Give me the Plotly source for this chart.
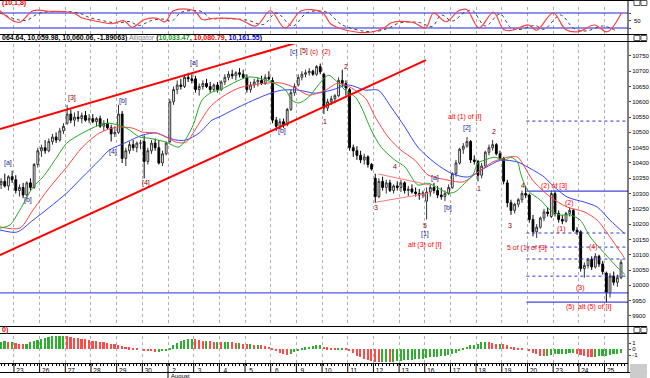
import plotly.graph_objects as go

# ---------------- data ----------------
bars = list(range(-4, 166))  # hourly bars, 7 per trading day
opens = [10330,10340,10325,10355,
 10345,10310,10320,10295,10335,10320,10395,
 10440,10450,10440,10470,10485,10475,10505,
 10530,10560,10540,10550,10545,10555,10540,
 10545,10535,10545,10520,10530,10515,10495,
 10500,10560,10415,10440,10460,10450,10465,
 10470,10405,10440,10465,10450,10400,10430,
 10470,10600,10640,10655,10650,10680,10675,
 10675,10640,10650,10660,10650,10640,10655,
 10640,10665,10680,10690,10685,10695,10690,
 10680,10640,10655,10665,10670,10660,10680,
 10670,10540,10520,10535,10525,10575,10630,
 10655,10680,10690,10695,10700,10690,10715,
 10690,10580,10600,10610,10620,10670,10660,
 10640,10450,10440,10425,10410,10420,10395,
 10350,10290,10340,10320,10335,10310,10325,
 10320,10335,10310,10315,10305,10300,10295,
 10275,10305,10320,10310,10295,10290,10300,
 10320,10365,10400,10445,10455,10470,10410,
 10405,10360,10390,10435,10450,10460,10430,
 10415,10335,10270,10245,10265,10280,10300,
 10295,10215,10175,10190,10220,10240,10225,
 10300,10235,10215,10210,10235,10245,10180,
 10175,10055,10065,10085,10060,10095,10070,
 10040,9975,10030,10010,10025]
highs = [10350,10365,10360,10375,
 10360,10330,10335,10340,10350,10400,10450,
 10460,10475,10480,10495,10500,10515,10530,
 10590,10575,10565,10570,10565,10570,10560,
 10560,10550,10555,10540,10545,10525,10520,
 10590,10570,10450,10470,10475,10470,10475,
 10490,10450,10475,10480,10475,10440,10470,
 10610,10650,10670,10675,10690,10695,10690,
 10685,10660,10670,10675,10665,10660,10665,
 10670,10690,10700,10705,10700,10710,10705,
 10690,10665,10675,10680,10685,10690,10700,
 10680,10550,10545,10545,10580,10640,10660,
 10690,10700,10705,10710,10705,10720,10725,
 10695,10610,10620,10625,10680,10705,10670,
 10645,10460,10455,10440,10430,10425,10400,
 10365,10350,10355,10345,10345,10330,10340,
 10345,10340,10325,10330,10320,10315,10310,
 10320,10330,10335,10325,10320,10310,10330,
 10370,10410,10450,10465,10485,10475,10425,
 10410,10400,10440,10460,10475,10465,10440,
 10420,10345,10280,10270,10285,10310,10325,
 10300,10230,10200,10225,10250,10255,10310,
 10310,10245,10230,10240,10255,10250,10190,
 10180,10075,10090,10095,10105,10100,10080,
 10045,10040,10045,10035,10085]
lows = [10315,10320,10310,10335,
 10300,10290,10285,10290,10310,10315,10385,
 10420,10430,10435,10460,10465,10470,10495,
 10525,10530,10520,10535,10530,10535,10530,
 10530,10520,10515,10505,10510,10470,10485,
 10495,10400,10390,10430,10440,10435,10445,
 10350,10395,10430,10440,10395,10390,10425,
 10465,10590,10625,10640,10645,10665,10660,
 10630,10620,10640,10645,10630,10635,10630,
 10635,10655,10670,10675,10670,10680,10675,
 10630,10630,10645,10650,10655,10655,10670,
 10530,10505,10510,10515,10520,10570,10620,
 10650,10670,10680,10685,10685,10685,10690,
 10560,10570,10590,10595,10615,10650,10620,
 10440,10420,10410,10400,10395,10385,10375,
 10270,10285,10310,10300,10305,10300,10310,
 10305,10300,10290,10300,10290,10280,10285,
 10215,10290,10300,10285,10280,10275,10295,
 10315,10355,10395,10430,10450,10400,10395,
 10340,10350,10385,10425,10440,10425,10410,
 10330,10255,10230,10235,10255,10270,10285,
 10205,10160,10155,10185,10210,10225,10220,
 10225,10205,10200,10205,10225,10175,10165,
 10045,10025,10055,10050,10055,10060,10035,
 9945,9960,10000,9995,10020]
closes = [10340,10325,10355,10345,
 10310,10320,10295,10335,10320,10395,10440,
 10450,10440,10470,10485,10475,10505,10520,
 10560,10540,10550,10545,10555,10540,10545,
 10535,10545,10520,10530,10515,10495,10500,
 10560,10415,10440,10460,10450,10465,10465,
 10405,10440,10465,10450,10400,10430,10465,
 10600,10640,10655,10650,10680,10675,10670,
 10640,10650,10660,10650,10640,10655,10640,
 10665,10680,10690,10685,10695,10690,10680,
 10640,10655,10665,10670,10660,10680,10675,
 10540,10520,10535,10525,10575,10630,10650,
 10680,10690,10695,10700,10690,10715,10698,
 10580,10600,10610,10620,10670,10660,10645,
 10450,10440,10425,10410,10420,10395,10380,
 10290,10340,10320,10335,10310,10325,10320,
 10335,10310,10315,10305,10300,10295,10303,
 10305,10320,10310,10295,10290,10300,10320,
 10365,10400,10445,10455,10470,10410,10405,
 10360,10390,10435,10450,10460,10430,10415,
 10340,10270,10245,10265,10280,10300,10295,
 10215,10175,10190,10220,10240,10235,10300,
 10235,10215,10210,10235,10245,10180,10175,
 10055,10065,10085,10060,10095,10070,10045,
 9975,10030,10010,10025,10075]

# Alligator lines (jaw / teeth / lips)
green_x = [-4.3,-1.6,1.1,4.7,7.4,11.2,13.9,18.2,22.8,25.5,30.2,33.7,36.4,41.0,44.5,48.1,50.8,53.5,55.4,63.5,
           69.8,73.6,75.2,77.1,79.8,82.5,85.2,87.1,89.8,92.6,94.2,96.9,99.6,103.4,106.1,109.6,112.4,115.1,117.8,119.7,
           122.4,124.6,126.0,127.8,130.5,133.3,134.9,136.8,137.6,139.5,143.0,145.7,148.4,151.2,153.9,156.6,160.4,163.9,166.1]
green_y = [10187,10197,10246,10321,10354,10419,10465,10498,10524,10530,10514,10485,10481,10468,10452,10517,10606,10632,10638,10681,
           10664,10638,10606,10596,10615,10655,10687,10671,10638,10615,10583,10508,10452,10409,10387,10328,10334,10318,10302,10305,
           10334,10360,10400,10409,10419,10409,10419,10403,10367,10311,10279,10246,10230,10230,10213,10158,10106,10060,10035]
red_x = [-4.3,1.1,4.7,9.3,13.9,18.2,22.8,27.4,31.8,34.5,38.3,41.0,43.7,46.4,50.0,52.7,55.4,60.8,68.1,72.5,
         76.3,79.8,84.4,87.9,91.5,95.3,98.0,101.5,105.0,108.8,112.4,117.8,121.9,126.0,130.0,134.1,136.8,138.7,140.9,145.7,
         150.3,155.0,158.5,162.0,165.9]
red_y = [10191,10187,10246,10321,10387,10452,10498,10517,10514,10501,10498,10485,10468,10468,10530,10579,10609,10645,10661,10661,
         10645,10622,10638,10661,10645,10612,10550,10485,10442,10409,10361,10344,10338,10370,10403,10419,10419,10387,10344,10289,
         10256,10240,10213,10158,10090]
blue_x = [-4.3,0.3,4.7,9.3,13.9,18.2,22.8,25.5,30.2,34.5,38.3,41.0,43.7,46.4,50.0,53.5,55.4,60.8,68.1,72.5,
          77.1,81.7,86.0,90.7,95.3,98.8,102.3,106.1,109.6,114.3,118.6,123.2,127.8,132.2,136.8,139.5,144.1,145.7,150.3,155.0,
          158.5,162.0,165.9]
blue_y = [10181,10174,10213,10256,10302,10354,10409,10442,10468,10491,10498,10485,10475,10475,10498,10540,10550,10583,10622,10638,
          10638,10628,10638,10655,10638,10638,10583,10517,10452,10400,10367,10354,10383,10409,10403,10387,10354,10334,10289,10272,
          10256,10213,10170]

# Oscillator (top panel)
osc_x = [-4.3,0.8,4.7,9,13.7,16,18.2,21,23.8,26.1,29.5,31.7,35.1,38.5,40.7,43,47.5,49,50.9,54.2,
         61,65.5,69.4,73.4,77.9,83.5,85.8,88,93.6,97,100.4,102.6,108.3,111.7,113.9,117.3,120.7,122.9,126.3,130.2,
         133,135.3,139.8,142,146.5,149.9,153.3,157.8,161.2,165.1]
osc_k = [89,42,89,87,85,78,60,50,42,37,49,23,54,59,45,89,94,85,54,59,
         54,28,89,20,89,83,37,20,2,4,20,42,42,20,80,45,89,94,20,83,
         14,11,32,11,80,14,5,32,5,80]
osc_d_x = [-4.3,2.5,6.5,11,15.5,18,20,23,25.5,28,31,33.5,37,40,42.5,45,49,51,53,56,
           63,67.5,71,75.5,79.5,85,88,90,95.5,99,102,104.5,110,113.5,116,119,122.5,124.5,128,132,
           135,137.5,141.5,144,148.5,152,155.5,160,163.5]
osc_d = [80,50,80,86,84,76,62,52,44,40,46,30,50,56,48,82,90,84,58,58,
         52,34,80,28,82,82,42,26,6,8,22,40,42,26,72,48,84,90,28,76,
         20,14,30,15,72,20,8,28,10]
osc_levels = [80, 20]

# Histogram (bottom panel)
ao = [1.2,1.3,1.1,1.2,
      1.0,0.9,0.8,0.9,1.1,1.3,1.5,
      1.7,1.9,2.0,2.1,2.2,2.2,2.2,
      2.1,2.0,1.9,1.8,1.7,1.6,1.5,
      1.4,1.3,1.2,1.1,1.0,0.9,0.8,
      0.6,0.5,0.4,0.3,0.2,0.1,0.0,
      -0.2,-0.3,-0.4,-0.5,-0.5,-0.4,-0.3,
      0.2,0.6,1.0,1.3,1.5,1.6,1.7,
      1.6,1.5,1.4,1.4,1.3,1.2,1.2,
      1.1,1.1,1.2,1.1,1.0,1.0,0.9,
      0.8,0.8,0.7,0.7,0.6,0.5,0.4,
      0.1,-0.3,-0.6,-0.8,-1.0,-0.8,-0.5,
      -0.2,0.1,0.3,0.4,0.5,0.6,0.6,
      0.4,0.3,0.2,0.1,0.1,0.2,0.1,
      -0.3,-0.7,-1.1,-1.4,-1.7,-1.9,-2.0,
      -2.1,-2.2,-2.2,-2.1,-2.2,-2.1,-2.0,
      -2.0,-1.9,-1.9,-1.8,-1.7,-1.7,-1.6,
      -1.5,-1.4,-1.4,-1.3,-1.2,-1.1,-1.0,
      -0.8,-0.6,-0.3,0.1,0.4,0.6,0.7,
      0.9,1.1,1.2,1.1,1.0,0.9,0.9,
      0.8,0.6,0.4,0.3,0.2,0.1,0.0,
      -0.3,-0.6,-0.9,-1.1,-1.2,-1.1,-1.0,
      -0.9,-0.9,-0.8,-0.8,-0.7,-0.7,-0.8,
      -1.0,-1.2,-1.3,-1.4,-1.3,-1.2,-1.1,
      -1.1,-1.0,-0.9,-0.8,-0.7]

day_labels = ["23","26","27","28","29","30","2","3","4","5","6","9","10","11","12","13",
              "16","17","18","19","20","23","24","25"]

# drawn lines (channel, triangle, levels)
chan_up_x = [-4.3, 77.1]
chan_up_y = [10511, 10795]
chan_lo_x = [-4.3, 111.8]
chan_lo_y = [10099, 10736]
tri_up_x = [98.8, 112.9]
tri_up_y = [10364, 10328]
tri_lo_x = [98.3, 112.9]
tri_lo_y = [10272, 10302]
level_full = 9975
level_start = 139.2
levels_solid = [10308, 9945]
levels_dotted = [10537, 10171, 10125, 10086, 10030]

BLUE_L = "#1c1c90"
DRED = "#8b0000"
RED = "#ff0000"
wave_labels = [
    (-2.1, 10400, "[a]", BLUE_L), (3.3, 10279, "[b]", BLUE_L), (15.2, 10612, "[3]", DRED),
    (26.4, 10436, "[4]", BLUE_L), (29.1, 10602, "[b]", BLUE_L), (35.6, 10334, "[4]", DRED),
    (48.6, 10726, "[a]", BLUE_L), (72.5, 10504, "[b]", BLUE_L), (75.7, 10762, "[c]", BLUE_L),
    (78.7, 10766, "[5]", DRED), (81.4, 10762, "(c)", RED), (84.7, 10762, "(2)", RED),
    (90.1, 10717, "2", DRED), (84.4, 10537, "1", DRED), (103.4, 10390, "4", DRED),
    (98.3, 10253, "3", DRED), (114.3, 10351, "[a]", BLUE_L), (111.5, 10197, "5", DRED),
    (111.5, 10168, "[1]", BLUE_L), (111.5, 10132, "alt (3) of [I]", RED), (117.8, 10253, "[b]", BLUE_L),
    (123.0, 10514, "[2]", BLUE_L), (122.4, 10550, "alt (1) of [I]", RED), (126.2, 10315, "1", DRED),
    (130.5, 10504, "2", DRED), (138.4, 10328, "4", DRED), (134.6, 10197, "3", DRED),
    (139.5, 10122, "5 of (1) of [3]", RED), (146.8, 10325, "(2) of [3]", RED), (148.7, 10184, "(1)", RED),
    (150.9, 10269, "(2)", RED), (153.9, 9991, "(3)", RED), (157.4, 10125, "(4)", RED),
    (151.2, 9929, "(5)", RED), (157.9, 9929, "alt (5) of [I]", RED),
]

# ---------------- figure ----------------
W, H = 650, 378
PLOT_W = 631
def fy(px):
    return 1 - px / H

XR = [-4.3, 166.9]
fig = go.Figure()

# oscillator panel
for lv in osc_levels:
    fig.add_trace(go.Scatter(x=XR, y=[lv, lv], mode="lines", line=dict(color="#2020e0", width=1),
                             xaxis="x", yaxis="y3", hoverinfo="skip", showlegend=False))
fig.add_trace(go.Scatter(x=osc_d_x, y=osc_d, mode="lines", line=dict(color="#444444", width=1, dash="dot", shape="spline"),
                         xaxis="x", yaxis="y3", hoverinfo="skip", showlegend=False))
fig.add_trace(go.Scatter(x=osc_x, y=osc_k, mode="lines", line=dict(color="#ff4040", width=1.2, shape="spline"),
                         xaxis="x", yaxis="y3", hoverinfo="skip", showlegend=False))

# main panel: levels
fig.add_trace(go.Scatter(x=XR, y=[level_full, level_full], mode="lines", line=dict(color="#5555ee", width=1.2),
                         xaxis="x", yaxis="y2", hoverinfo="skip", showlegend=False))
for lv in levels_solid:
    fig.add_trace(go.Scatter(x=[level_start, XR[1]], y=[lv, lv], mode="lines", line=dict(color="#4444dd", width=1.2),
                             xaxis="x", yaxis="y2", hoverinfo="skip", showlegend=False))
for lv in levels_dotted:
    fig.add_trace(go.Scatter(x=[level_start, XR[1]], y=[lv, lv], mode="lines", line=dict(color="#3333cc", width=1, dash="dot"),
                             xaxis="x", yaxis="y2", hoverinfo="skip", showlegend=False))

# alligator
for xs, ys, col in [(blue_x, blue_y, "#3344ff"), (red_x, red_y, "#ff4444"), (green_x, green_y, "#22aa22")]:
    fig.add_trace(go.Scatter(x=xs, y=ys, mode="lines", line=dict(color=col, width=1, shape="spline", smoothing=0.8),
                             xaxis="x", yaxis="y2", hoverinfo="skip", showlegend=False))

# channel + triangle
for xs, ys in [(chan_up_x, chan_up_y), (chan_lo_x, chan_lo_y)]:
    fig.add_trace(go.Scatter(x=xs, y=ys, mode="lines", line=dict(color="#ff0000", width=2),
                             xaxis="x", yaxis="y2", hoverinfo="skip", showlegend=False))
for xs, ys in [(tri_up_x, tri_up_y), (tri_lo_x, tri_lo_y)]:
    fig.add_trace(go.Scatter(x=xs, y=ys, mode="lines", line=dict(color="#ff7777", width=1),
                             xaxis="x", yaxis="y2", hoverinfo="skip", showlegend=False))

# candles
fig.add_trace(go.Candlestick(x=bars, open=opens, high=highs, low=lows, close=closes,
                             xaxis="x", yaxis="y2", whiskerwidth=0,
                             increasing=dict(line=dict(color="#333333", width=1), fillcolor="#ffffff"),
                             decreasing=dict(line=dict(color="#000000", width=1), fillcolor="#000000"),
                             hoverinfo="skip", showlegend=False))

# histogram
ao_cols = []
for i, v in enumerate(ao):
    up = (i == 0) or (v >= ao[i - 1])
    ao_cols.append("#2fae2f" if up else "#ff4a4a")
fig.add_trace(go.Bar(x=bars, y=ao, marker=dict(color=ao_cols, line=dict(width=0)), width=0.45,
                     xaxis="x", yaxis="y", hoverinfo="skip", showlegend=False))

# annotations
ann = []
for bx, py, txt, col in wave_labels:
    ann.append(dict(x=bx, y=py, xref="x", yref="y2", text=txt, showarrow=False,
                    font=dict(size=7, color=col, family="Arial, Liberation Sans"), xanchor="center", yanchor="middle"))

hdr_font = dict(size=7, family="Arial, Liberation Sans", color="#000000")
ann.append(dict(x=0, y=fy(3), xref="paper", yref="paper", text="<b>(10,1,8)</b>", showarrow=False,
                font=dict(size=7, family="Arial, Liberation Sans", color="#dd0000"), xanchor="left", yanchor="middle"))
ann.append(dict(x=0, y=fy(38), xref="paper", yref="paper",
                text="<b>064.64, 10,059.98, 10,060.06, -1.89063)</b> <span style='color:#888888'>Alligator</span> <b>(<span style='color:#119911'>10,033.47</span>, <span style='color:#ee0000'>10,080.79</span>, <span style='color:#0000ee'>10,161.55</span>)</b>",
                showarrow=False, font=hdr_font, xanchor="left", yanchor="middle"))
ann.append(dict(x=0, y=fy(330), xref="paper", yref="paper", text="<b>0)</b>", showarrow=False,
                font=dict(size=7, family="Arial, Liberation Sans", color="#dd0000"), xanchor="left", yanchor="middle"))
ann.append(dict(x=41.5, y=fy(375.5), xref="x", yref="paper", text="August", showarrow=False,
                font=dict(size=6, family="Arial, Liberation Sans", color="#000000"), xanchor="left", yanchor="middle", xshift=1))
ann.append(dict(x=1, y=fy(21), xref="paper", yref="paper", text="50", showarrow=False,
                font=dict(size=6, family="Arial, Liberation Sans", color="#000000"), xanchor="left", yanchor="middle", xshift=4))

# panel frame lines / icons
shapes = []
for ypx in [0.5, 34.5, 41.5, 326.5, 333.5, 372.5]:
    shapes.append(dict(type="line", xref="paper", yref="paper", x0=0, x1=W / PLOT_W, y0=fy(ypx), y1=fy(ypx),
                       line=dict(color="#000000", width=1)))
shapes.append(dict(type="line", xref="paper", yref="paper", x0=1, x1=1, y0=fy(372), y1=fy(0),
                   line=dict(color="#000000", width=1)))
# long day-separator ticks on the date ruler
for d in range(len(day_labels)):
    shapes.append(dict(type="line", xref="x", yref="paper", x0=7 * d - 0.5, x1=7 * d - 0.5, y0=fy(372), y1=fy(363),
                       line=dict(color="#000000", width=1)))
shapes.append(dict(type="line", xref="x", yref="paper", x0=41.5, x1=41.5, y0=fy(378), y1=fy(372),
                   line=dict(color="#000000", width=1)))
shapes.append(dict(type="rect", xref="paper", yref="paper", x0=633 / PLOT_W, x1=650 / PLOT_W, y0=fy(378), y1=fy(364),
                   fillcolor="#cccccc", line=dict(width=0)))
for ypx in [3, 38, 330]:
    shapes.append(dict(type="rect", xref="paper", yref="paper", x0=637 / PLOT_W, x1=643 / PLOT_W, y0=fy(ypx + 2.5), y1=fy(ypx - 2.5),
                       line=dict(color="#555555", width=1), fillcolor="#ffffff"))
    shapes.append(dict(type="rect", xref="paper", yref="paper", x0=644 / PLOT_W, x1=650 / PLOT_W, y0=fy(ypx + 2.5), y1=fy(ypx - 2.5),
                       line=dict(color="#555555", width=1), fillcolor="#ffffff"))

tick_font = dict(size=6, family="Liberation Sans Narrow, Arial Narrow, Arial", color="#000000")
fig.update_layout(
    width=W, height=H, margin=dict(l=0, r=W - PLOT_W, t=0, b=0),
    paper_bgcolor="#ffffff", plot_bgcolor="#ffffff", showlegend=False, bargap=0,
    xaxis=dict(domain=[0, 1], range=XR, anchor="y", rangeslider=dict(visible=False),
               tickvals=[7 * d - 0.5 for d in range(len(day_labels))], ticktext=day_labels,
               tickfont=dict(size=6.5, family="Arial, Liberation Sans", color="#000000"),
               ticks="outside", ticklen=1, tickcolor="#000000", ticklabelshift=6, ticklabelstandoff=0,
               ticklabeloverflow="allow",
               minor=dict(dtick=1, tick0=0, ticks="outside", ticklen=2, tickcolor="#000000", showgrid=False),
               showgrid=True, gridcolor="#b0b0b0", griddash="dot", gridwidth=1,
               showline=True, linecolor="#000000", linewidth=1, zeroline=False),
    yaxis=dict(domain=[fy(363), fy(336)], range=[-2.33, 2.17], anchor="x", side="right",
               tickvals=[-1, 0, 1], ticktext=["-1", "0", "1"], tickfont=tick_font, ticks="outside", ticklen=2,
               ticklabeloverflow="allow", showgrid=False, zeroline=False, showline=False),
    yaxis2=dict(domain=[fy(326), fy(44)], range=[9867, 10789], anchor="x", side="right",
                tickvals=list(range(9900, 10751, 50)), tickfont=tick_font, ticks="outside", ticklen=2,
                ticklabeloverflow="allow", tickformat="d", showgrid=False, zeroline=False, showline=False),
    yaxis3=dict(domain=[fy(34), fy(7)], range=[-4, 104], anchor="x", side="right",
                tickvals=[20, 50, 80], ticktext=["", "", ""], ticks="outside", ticklen=2,
                showgrid=False, zeroline=False, showline=False),
    annotations=ann, shapes=shapes,
)

fig.write_html("out.html", config={"displayModeBar": False},
               post_script="document.body.style.margin='0px';document.body.style.padding='0px';")
